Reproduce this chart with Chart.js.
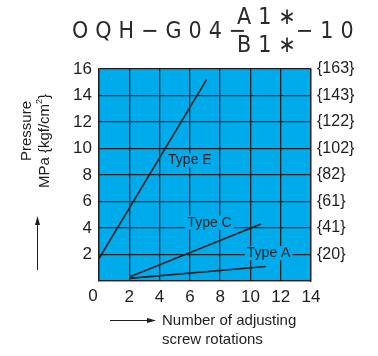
<!DOCTYPE html>
<html>
<head>
<meta charset="utf-8">
<script src="https://cdn.jsdelivr.net/npm/chart.js@4.4.1/dist/chart.umd.min.js"></script>
<style>
  body { margin: 0; background: #fff; }
  #wrap { position: relative; width: 378px; height: 356px; }
  canvas { position: absolute; left: 0; top: 0; }
  .code { position: absolute; font-family: "DejaVu Sans Condensed", "Liberation Sans Narrow", sans-serif; font-size: 23px; color: #2a2a2a; letter-spacing: 7px; line-height: 23px; white-space: nowrap; }
</style>
</head>
<body>
<div id="wrap">
  <canvas id="chart" width="378" height="356"></canvas>
  <div class="code" style="left:72px; top:19px;">OQH−G04−</div>
  <div class="code" style="left:237px; top:5px;">A1∗</div>
  <div class="code" style="left:237px; top:33px;">B1∗</div>
  <div class="code" style="left:296px; top:19px;">−10</div>
</div>
<script>
// values
const rotationTicks = [0, 2, 4, 6, 8, 10, 12, 14];
const pressureTicks = [2, 4, 6, 8, 10, 12, 14, 16];
const kgfTicks = [20, 41, 61, 82, 102, 122, 143, 163];

const typeE = [{ x: 0, y: 1.7 }, { x: 7.1, y: 15.2 }];
const typeC = [{ x: 2, y: 0.3 }, { x: 10.7, y: 4.3 }];
const typeA = [{ x: 2, y: 0.2 }, { x: 11, y: 1.1 }];

const seriesNames = ["Type E", "Type C", "Type A"];

const BLUE = "#00abeb";
const INK = "#1e1e1e";
const FONT = "'Liberation Sans', Arial, sans-serif";

// where the type labels sit, in data units
const labelSpots = [
    { x: 6, y: 9.1 },
    { x: 7.3, y: 4.4 },
    { x: 11.2, y: 2.1 }
];

const extras = {
    id: "extras",
    beforeDraw(chart) {
        const { ctx, chartArea: a } = chart;
        ctx.save();
        ctx.fillStyle = BLUE;
        ctx.fillRect(a.left, a.top, a.right - a.left, a.bottom - a.top);
        ctx.restore();
    },
    afterDatasetsDraw(chart) {
        const { ctx, scales } = chart;
        ctx.save();
        ctx.font = "14px " + FONT;
        ctx.textAlign = "center";
        ctx.textBaseline = "middle";
        seriesNames.forEach((name, i) => {
            const px = scales.x.getPixelForValue(labelSpots[i].x);
            const py = scales.y.getPixelForValue(labelSpots[i].y);
            const w = ctx.measureText(name).width + 4;
            ctx.fillStyle = BLUE;
            ctx.fillRect(px - w / 2, py - 7, w, 14);
            ctx.fillStyle = INK;
            ctx.fillText(name, px, py);
        });
        ctx.restore();
    },
    afterDraw(chart) {
        const { ctx, scales } = chart;
        ctx.save();
        ctx.fillStyle = INK;
        ctx.strokeStyle = INK;

        // x "0" sits a little left of the corner
        ctx.font = "17px " + FONT;
        ctx.textAlign = "center";
        ctx.textBaseline = "top";
        ctx.fillText("0", scales.x.getPixelForValue(0) - 6, chart.chartArea.bottom + 7);

        // y title
        ctx.font = "15px " + FONT;
        ctx.textBaseline = "middle";
        ctx.translate(27, 131);
        ctx.rotate(-Math.PI / 2);
        ctx.fillText("Pressure", 0, 0);
        ctx.restore();

        ctx.save();
        ctx.fillStyle = INK;
        ctx.font = "15px " + FONT;
        ctx.textBaseline = "middle";
        ctx.translate(45, 141);
        ctx.rotate(-Math.PI / 2);
        const main = "MPa {kgf/cm";
        const mw = ctx.measureText(main).width;
        ctx.font = "9px " + FONT;
        const sw = ctx.measureText("2").width;
        ctx.font = "15px " + FONT;
        const bw = ctx.measureText("}").width;
        const start = -(mw + sw + bw) / 2;
        ctx.textAlign = "left";
        ctx.fillText(main, start, 0);
        ctx.font = "9px " + FONT;
        ctx.fillText("2", start + mw, -5);
        ctx.font = "15px " + FONT;
        ctx.fillText("}", start + mw + sw, 0);
        ctx.restore();

        // arrows
        ctx.save();
        ctx.strokeStyle = INK;
        ctx.fillStyle = INK;
        ctx.lineWidth = 1;
        ctx.beginPath();
        ctx.moveTo(37.5, 270);
        ctx.lineTo(37.5, 222);
        ctx.stroke();
        ctx.beginPath();
        ctx.moveTo(37.5, 216);
        ctx.lineTo(35, 225);
        ctx.lineTo(40, 225);
        ctx.closePath();
        ctx.fill();

        ctx.beginPath();
        ctx.moveTo(110, 320.5);
        ctx.lineTo(150, 320.5);
        ctx.stroke();
        ctx.beginPath();
        ctx.moveTo(156, 320.5);
        ctx.lineTo(147, 318);
        ctx.lineTo(147, 323);
        ctx.closePath();
        ctx.fill();

        // x title
        ctx.font = "15px " + FONT;
        ctx.textAlign = "left";
        ctx.textBaseline = "middle";
        ctx.fillText("Number of adjusting", 162, 321);
        ctx.fillText("screw rotations", 162, 340);
        ctx.restore();
    }
};

const lineSet = (label, data) => ({
    label,
    data,
    showLine: true,
    borderColor: INK,
    borderWidth: 1.6,
    pointRadius: 0,
    fill: false
});

new Chart(document.getElementById("chart"), {
    type: "scatter",
    data: {
        datasets: [
            lineSet(seriesNames[0], typeE),
            lineSet(seriesNames[1], typeC),
            lineSet(seriesNames[2], typeA)
        ]
    },
    plugins: [extras],
    options: {
        responsive: false,
        devicePixelRatio: 1,
        animation: false,
        layout: { padding: { top: 69, left: 0, right: 0, bottom: 0 } },
        plugins: { legend: { display: false }, tooltip: { enabled: false } },
        scales: {
            x: {
                type: "linear",
                min: 0,
                max: 14,
                afterFit: (s) => { s.height = 75; },
                afterBuildTicks: (s) => { s.ticks = rotationTicks.map((v) => ({ value: v })); },
                ticks: {
                    color: INK,
                    font: { size: 17, family: FONT },
                    padding: 6,
                    maxRotation: 0,
                    callback: (v) => (v === 0 ? "" : String(v))
                },
                grid: { color: INK, lineWidth: 1.3, drawTicks: false },
                border: { color: INK, width: 1.3 }
            },
            y: {
                type: "linear",
                position: "left",
                min: 0,
                max: 16,
                afterFit: (s) => { s.width = 99; },
                afterBuildTicks: (s) => { s.ticks = [0].concat(pressureTicks).map((v) => ({ value: v })); },
                ticks: {
                    color: INK,
                    font: { size: 17, family: FONT },
                    padding: 7,
                    callback: (v) => (v === 0 ? "" : String(v))
                },
                grid: { color: INK, lineWidth: 1.3, drawTicks: false },
                border: { color: INK, width: 1.3 }
            },
            y2: {
                type: "linear",
                position: "right",
                min: 0,
                max: 16,
                afterFit: (s) => { s.width = 67; },
                afterBuildTicks: (s) => { s.ticks = pressureTicks.map((v) => ({ value: v })); },
                ticks: {
                    color: INK,
                    font: { size: 16, family: FONT },
                    padding: 6,
                    callback: (v) => "{" + kgfTicks[pressureTicks.indexOf(v)] + "}"
                },
                grid: { display: false, drawTicks: false },
                border: { color: INK, width: 1.3 }
            }
        }
    }
});
</script>
</body>
</html>
